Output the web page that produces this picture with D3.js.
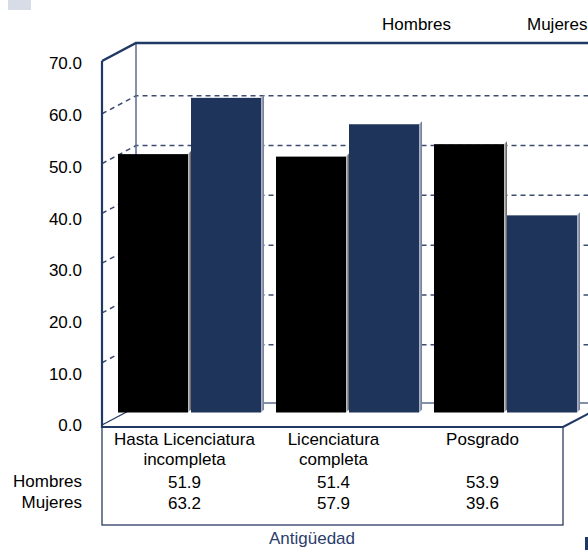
<!DOCTYPE html>
<html>
<head>
<meta charset="utf-8">
<script src="https://cdn.jsdelivr.net/npm/d3@7"></script>
<style>
  html, body { margin: 0; padding: 0; background: #fff; }
  svg { display: block; font-family: "Liberation Sans", Arial, sans-serif; }
</style>
</head>
<body>
<svg id="chart" width="588" height="550"></svg>
<script>
// Education level by sex (percent)
const categories = ["Hasta Licenciatura incompleta", "Licenciatura completa", "Posgrado"];
const categoryLines = [["Hasta Licenciatura", "incompleta"], ["Licenciatura", "completa"], ["Posgrado"]];
const series = ["Hombres", "Mujeres"];
const hombres = [51.9, 51.4, 53.9];
const mujeres = [63.2, 57.9, 39.6];
const yTicks = [0, 10, 20, 30, 40, 50, 60, 70];
const axisTitle = "Antigüedad";

const seriesValues = { Hombres: hombres, Mujeres: mujeres };
const colors = { Hombres: "#000000", Mujeres: "#1f345a" };
const sideColors = { Hombres: ["#d0d0d0", "#5a5a5a"], Mujeres: ["#b4bccd", "#6d7893"] };

const svg = d3.select("#chart");
const navy = "#1f3864";

// plot box: front face and an oblique offset to the back wall
const left = 102, right = 563;
const depthX = 34, depthY = -18;
const yF = d3.scaleLinear().domain([0, 70]).range([412.5, 64]);
const yLabel = d3.scaleLinear().domain([0, 70]).range([425.5, 63.5]);
const topY = yF(70) - 3;
const tableTop = 427, tableBottom = 525;

// bar positions
const x0 = d3.scaleBand().domain(categories).range([111, 585]);
const x1 = d3.scaleBand().domain(series).range([7, 153]);
const side = 3;

// table column centres
const xTable = d3.scaleBand().domain(categories).range([110, 557]);

// small corner marks
svg.append("rect").attr("x", 8).attr("y", 0).attr("width", 23).attr("height", 10).attr("fill", "#d7dce6");
svg.append("rect").attr("x", 585).attr("y", 537).attr("width", 3).attr("height", 13).attr("fill", navy);

// gridlines: front edge -> back wall
const grid = svg.append("g");
yTicks.filter(v => v > 0 && v < 70).forEach(v => {
  const yf = yF(v), yb = yf + depthY;
  grid.append("path")
    .attr("d", `M${left},${yf}L${left + depthX},${yb}L600,${yb}`)
    .attr("fill", "none")
    .attr("stroke", "#3c4c70")
    .attr("stroke-width", 1.5)
    .attr("stroke-dasharray", "5,4");
});

// back wall and floor outlines
const frame = svg.append("g").attr("fill", "none");
frame.append("line").attr("x1", left + depthX).attr("y1", topY + depthY)
  .attr("x2", left + depthX).attr("y2", tableTop + depthY - 2)
  .attr("stroke", "#5d6d8e").attr("stroke-width", 1.5);
frame.append("path").attr("d", `M${left},${topY}L${left + depthX},${topY + depthY}L600,${topY + depthY}`)
  .attr("stroke", navy).attr("stroke-width", 2.5);
frame.append("line").attr("x1", left).attr("y1", tableTop - 2)
  .attr("x2", left + depthX).attr("y2", tableTop - 2 + depthY)
  .attr("stroke", navy).attr("stroke-width", 1.3);
frame.append("line").attr("x1", left + depthX).attr("y1", 403).attr("x2", 600).attr("y2", 403)
  .attr("stroke", "#5d6d8e").attr("stroke-width", 1.3);
frame.append("line").attr("x1", right).attr("y1", tableTop)
  .attr("x2", right + depthX).attr("y2", tableTop + depthY)
  .attr("stroke", navy).attr("stroke-width", 2);

// gradients for bar side faces
const defs = svg.append("defs");
series.forEach(s => {
  const g = defs.append("linearGradient").attr("id", "side-" + s).attr("x1", "0").attr("x2", "1");
  g.append("stop").attr("offset", "0").attr("stop-color", sideColors[s][0]);
  g.append("stop").attr("offset", "1").attr("stop-color", sideColors[s][1]);
});

// bars
const bars = svg.append("g");
categories.forEach((c, i) => {
  series.forEach(s => {
    const v = seriesValues[s][i];
    const xa = x0(c) + x1(s);
    const w = x1.bandwidth() - side;
    const yt = yF(v), yb = yF(0);
    bars.append("path")
      .attr("d", `M${xa + w},${yt}L${xa + w + side},${yt - side}L${xa + w + side},${yb - side}L${xa + w},${yb}Z`)
      .attr("fill", `url(#side-${s})`);
    bars.append("rect")
      .attr("x", xa).attr("y", yt).attr("width", w).attr("height", yb - yt)
      .attr("fill", colors[s]);
  });
});

// front vertical axis line
svg.append("line").attr("x1", left).attr("y1", topY).attr("x2", left).attr("y2", tableTop + 1)
  .attr("stroke", navy).attr("stroke-width", 2.2);

// tick labels
svg.append("g").selectAll("text").data(yTicks).join("text")
  .attr("x", 82).attr("y", d => yLabel(d))
  .attr("dy", "0.35em")
  .attr("text-anchor", "end")
  .attr("font-size", 17)
  .attr("fill", "#000")
  .text(d => d.toFixed(1));

// data table
svg.append("rect").attr("x", left).attr("y", tableTop).attr("width", right - left).attr("height", tableBottom - tableTop)
  .attr("fill", "none").attr("stroke", "#2b3b62").attr("stroke-width", 1.3);
svg.append("line").attr("x1", left).attr("y1", tableTop).attr("x2", right).attr("y2", tableTop)
  .attr("stroke", navy).attr("stroke-width", 2.2);

const table = svg.append("g").attr("font-size", 17).attr("fill", "#000").attr("text-anchor", "middle");
categories.forEach((c, i) => {
  const cx = xTable(c) + xTable.bandwidth() / 2;
  categoryLines[i].forEach((line, k) => {
    table.append("text").attr("x", cx).attr("y", 445 + k * 20).text(line);
  });
  series.forEach((s, k) => {
    table.append("text").attr("x", cx).attr("y", 488 + k * 21).text(seriesValues[s][i].toFixed(1));
  });
});
series.forEach((s, k) => {
  svg.append("text").attr("x", 82).attr("y", 487 + k * 21).attr("text-anchor", "end")
    .attr("font-size", 17).text(s);
});

// legend
svg.append("text").attr("x", 382).attr("y", 30).attr("font-size", 17).text("Hombres");
svg.append("text").attr("x", 527).attr("y", 30).attr("font-size", 17).text("Mujeres");

// category axis title
svg.append("text").attr("x", 312).attr("y", 544).attr("text-anchor", "middle")
  .attr("font-size", 17).attr("fill", "#2b3d6b").text(axisTitle);
</script>
</body>
</html>
